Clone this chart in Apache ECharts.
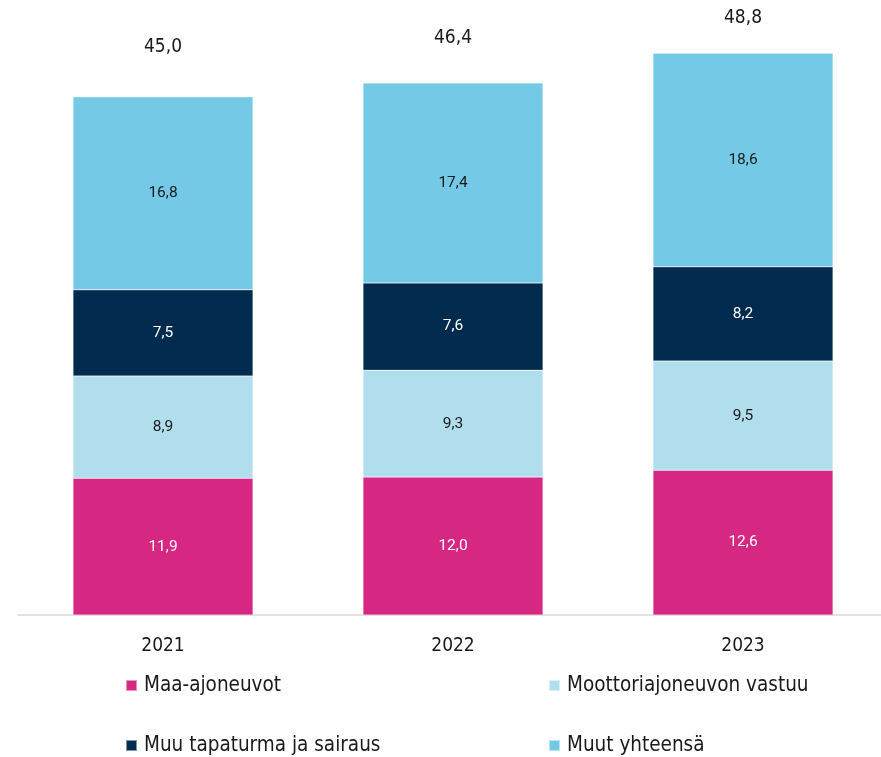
<!DOCTYPE html>
<html>
<head>
    <meta charset="utf-8">
    <title>ECharts</title>
    <script src="https://cdn.jsdelivr.net/npm/echarts@6/dist/echarts.min.js"></script>
    <style>
        html, body { margin: 0; padding: 0; background: #fff; }
    </style>
</head>
<body>
<div id="main" style="width:881px; height:757px;"></div>
<script type="text/javascript">
    // data
    var years = ['2021', '2022', '2023'];
    var maaAjoneuvot = [11.9, 12.0, 12.6];
    var moottoriVastuu = [8.9, 9.3, 9.5];
    var muuTapaturma = [7.5, 7.6, 8.2];
    var muutYhteensa = [16.8, 17.4, 18.6];
    var totals = [45.0, 46.4, 48.8];

    var narrow = '"Liberation Sans Narrow", "DejaVu Sans Condensed", sans-serif';
    var fi = function (v) { return v.toFixed(1).replace('.', ','); };

    // gap between bar top and total label
    var totalGap = [40, 35, 26];

    var myChart = echarts.init(document.getElementById('main'));

    function seg(name, values, color, textColor) {
        return {
            name: name,
            type: 'bar',
            stack: 'all',
            barWidth: 180,
            data: values,
            itemStyle: { color: color, borderColor: 'rgba(255,255,255,0.5)', borderWidth: 0.5 },
            label: {
                show: true,
                position: 'inside',
                color: textColor,
                fontFamily: 'Roboto, sans-serif',
                fontSize: 15.5,
                formatter: function (p) { return fi(p.value); }
            },
            emphasis: { disabled: true }
        };
    }

    // one legend per item, laid out as 2 x 2
    function legendItem(name, left, top) {
        return {
            left: left,
            top: top,
            padding: 0,
            itemWidth: 11,
            itemHeight: 11,
            icon: 'rect',
            selectedMode: false,
            textStyle: { fontSize: 20.5, fontFamily: narrow, color: '#1a1a1a', padding: [0, 0, 0, 2] },
            data: [name]
        };
    }

    var option = {
        animation: false,
        grid: { left: 18, width: 870, top: 40.5, bottom: 142, outerBoundsMode: 'none', containLabel: false },
        xAxis: {
            type: 'category',
            data: years,
            axisLine: { lineStyle: { color: '#d9d9d9', width: 1.5 } },
            axisTick: { show: false },
            axisLabel: { margin: 22, color: '#1a1a1a', fontSize: 19, fontFamily: narrow }
        },
        yAxis: {
            type: 'value',
            min: 0,
            max: 50,
            show: false,
            splitLine: { show: false }
        },
        legend: [
            legendItem('Maa-ajoneuvot', 125, 675),
            legendItem('Moottoriajoneuvon vastuu', 548, 675),
            legendItem('Muu tapaturma ja sairaus', 125, 735),
            legendItem('Muut yhteensä', 548, 735)
        ],
        series: [
            seg('Maa-ajoneuvot', maaAjoneuvot, '#D62783', '#ffffff'),
            seg('Moottoriajoneuvon vastuu', moottoriVastuu, '#B0DEEC', '#1a1a1a'),
            seg('Muu tapaturma ja sairaus', muuTapaturma, '#002A4E', '#ffffff'),
            seg('Muut yhteensä', muutYhteensa, '#74CAE6', '#1a1a1a'),
            {
                // totals above bars
                name: 'total',
                type: 'bar',
                stack: 'all',
                barWidth: 180,
                data: totals.map(function (v, i) {
                    return { value: 0, label: { distance: totalGap[i] } };
                }),
                itemStyle: { color: 'transparent' },
                label: {
                    show: true,
                    position: 'top',
                    color: '#1a1a1a',
                    fontSize: 19,
                    fontFamily: narrow,
                    formatter: function (p) { return fi(totals[p.dataIndex]); }
                },
                emphasis: { disabled: true }
            }
        ]
    };
    myChart.setOption(option);
</script>
</body>
</html>
